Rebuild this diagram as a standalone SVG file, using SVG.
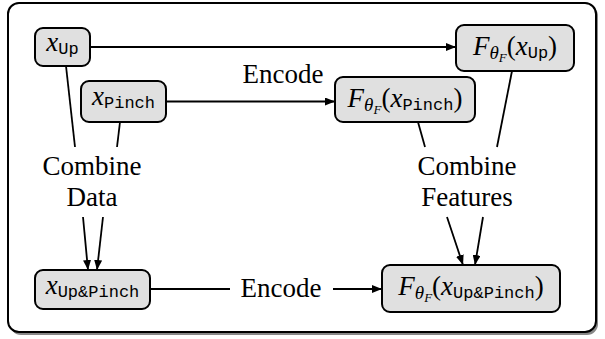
<svg xmlns="http://www.w3.org/2000/svg" width="605" height="339" viewBox="0 0 605 339">
<defs>
<style>
.node rect{fill:#e0e0e0;stroke:#000;stroke-width:2}
.frame{fill:#fff;stroke:#000;stroke-width:2}
.c line{stroke:#000;stroke-width:1.8}
.i{font-style:italic}
.tt{font-family:'Liberation Mono','DejaVu Sans Mono',monospace;font-size:17px}
.s{font-size:19px;font-style:italic}
.ss{font-size:13px;font-style:italic}
</style>
<marker id="ah" viewBox="0 0 10 8" refX="10" refY="4" markerWidth="10" markerHeight="8" markerUnits="userSpaceOnUse" orient="auto">
<path d="M0,0 L10,4 L0,8 Z" fill="#000"/>
</marker>
</defs>
<rect x="10" y="5" width="588" height="330" rx="11" fill="#888"/>
<rect class="frame" x="8" y="3" width="588" height="329" rx="11"/>
<g class="c" font-family="Liberation Serif, serif" font-size="27">
<line x1="90" y1="47" x2="456" y2="47" marker-end="url(#ah)"/>
<line x1="166" y1="101.5" x2="335" y2="101.5" marker-end="url(#ah)"/>
<line x1="66" y1="66" x2="75" y2="147"/>
<line x1="120" y1="122" x2="117" y2="147"/>
<line x1="83" y1="217" x2="88" y2="270" marker-end="url(#ah)"/>
<line x1="103" y1="217" x2="97" y2="270" marker-end="url(#ah)"/>
<line x1="418" y1="122" x2="425" y2="147"/>
<line x1="512" y1="71" x2="497" y2="147"/>
<line x1="447" y1="217" x2="463" y2="265" marker-end="url(#ah)"/>
<line x1="483" y1="217" x2="475" y2="265" marker-end="url(#ah)"/>
<line x1="150" y1="289" x2="230" y2="289"/>
<line x1="333" y1="289" x2="382" y2="289" marker-end="url(#ah)"/>
<text x="283" y="83" text-anchor="middle">Encode</text>
<text x="281" y="297" text-anchor="middle">Encode</text>
<text x="92" y="175" text-anchor="middle">Combine</text>
<text x="92" y="206" text-anchor="middle">Data</text>
<text x="467" y="175" text-anchor="middle">Combine</text>
<text x="467" y="206" text-anchor="middle">Features</text>
</g>
<g font-family="Liberation Serif, serif" font-size="27">
<g id="xup" class="node">
<rect x="35" y="28" width="55" height="38" rx="8"/>
<text x="62.5" y="51" text-anchor="middle"><tspan class="i">x</tspan><tspan class="tt" dy="3">Up</tspan></text>
</g>
<g id="xpinch" class="node">
<rect x="81" y="81" width="85" height="41" rx="8"/>
<text x="123.5" y="105" text-anchor="middle"><tspan class="i">x</tspan><tspan class="tt" dy="3">Pinch</tspan></text>
</g>
<g id="fup" class="node">
<rect x="456" y="25" width="118" height="46" rx="8"/>
<text x="515" y="55" text-anchor="middle"><tspan class="i">F</tspan><tspan class="s" dy="4">θ</tspan><tspan class="ss" dy="3">F</tspan><tspan dy="-7">(</tspan><tspan class="i">x</tspan><tspan class="tt" dy="3">Up</tspan><tspan dy="-3">)</tspan></text>
</g>
<g id="fpinch" class="node">
<rect x="335" y="77" width="140" height="45" rx="8"/>
<text x="405" y="107" text-anchor="middle"><tspan class="i">F</tspan><tspan class="s" dy="4">θ</tspan><tspan class="ss" dy="3">F</tspan><tspan dy="-7">(</tspan><tspan class="i">x</tspan><tspan class="tt" dy="3">Pinch</tspan><tspan dy="-3">)</tspan></text>
</g>
<g id="xuppinch" class="node">
<rect x="35" y="270" width="115" height="39" rx="8"/>
<text x="92.5" y="294" text-anchor="middle"><tspan class="i">x</tspan><tspan class="tt" dy="3">Up&amp;Pinch</tspan></text>
</g>
<g id="fuppinch" class="node">
<rect x="382" y="265" width="178" height="47" rx="8"/>
<text x="471" y="295" text-anchor="middle"><tspan class="i">F</tspan><tspan class="s" dy="4">θ</tspan><tspan class="ss" dy="3">F</tspan><tspan dy="-7">(</tspan><tspan class="i">x</tspan><tspan class="tt" dy="3">Up&amp;Pinch</tspan><tspan dy="-3">)</tspan></text>
</g>
</g>
</svg>
